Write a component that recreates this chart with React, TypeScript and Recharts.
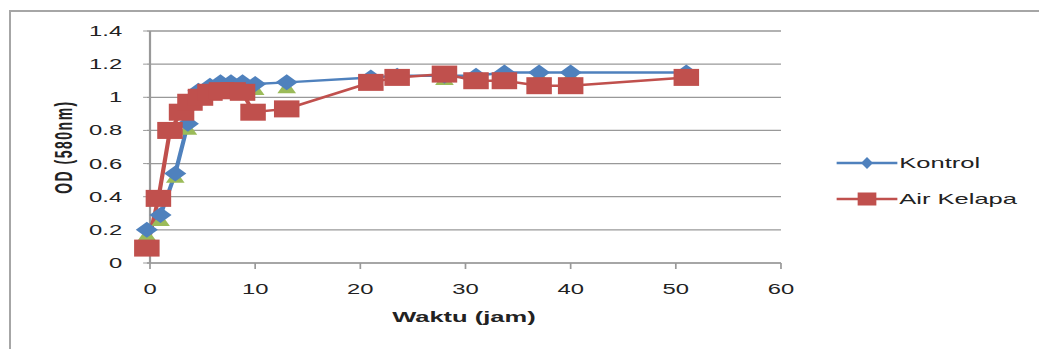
import { LineChart, Line, XAxis, YAxis, CartesianGrid, ReferenceLine, Legend } from "recharts"

// waktu (jam) dan OD 580 nm
const waktuKontrol = [-0.3, 1.0, 2.4, 3.6, 4.6, 5.7, 6.7, 7.7, 8.8, 10, 13, 21, 23.5, 28, 31, 33.7, 37, 40, 51]
const odKontrol = [0.2, 0.29, 0.54, 0.84, 1.04, 1.07, 1.09, 1.09, 1.09, 1.08, 1.09, 1.12, 1.13, 1.13, 1.13, 1.15, 1.15, 1.15, 1.15]
const odKontrol2 = [0.17, 0.26, 0.52, 0.81, 1.01, 1.04, 1.06, 1.06, 1.06, 1.05, 1.06, 1.09, 1.11, 1.11, 1.11, 1.13, 1.13, 1.13, 1.13]

const waktuAirKelapa = [-0.3, 0.8, 1.9, 3.0, 3.8, 4.8, 5.7, 6.8, 7.9, 8.8, 9.8, 13, 21, 23.5, 28, 31, 33.7, 37, 40, 51]
const odAirKelapa = [0.09, 0.39, 0.8, 0.91, 0.97, 1.0, 1.03, 1.04, 1.04, 1.03, 0.91, 0.93, 1.09, 1.12, 1.14, 1.1, 1.1, 1.07, 1.07, 1.12]

const xTicks = [0, 10, 20, 30, 40, 50, 60]
const yTicks = [0, 0.2, 0.4, 0.6, 0.8, 1, 1.2, 1.4]
const legendOrder = ["Kontrol", "Air Kelapa"]

const kontrol = waktuKontrol.map((x, i) => ({ x, y: odKontrol[i] }))
const kontrol2 = waktuKontrol.map((x, i) => ({ x, y: odKontrol2[i] }))
const airKelapa = waktuAirKelapa.map((x, i) => ({ x, y: odAirKelapa[i] }))

const BLUE = "#4F81BD"
const RED = "#C0504D"
const GREEN = "#9BBB59"
const GRID = "#999999"
const FONT = "'Liberation Sans', Arial, sans-serif"
const SX = 1.7

const Diamond = (props: any) => {
  const { cx, cy } = props
  if (cx == null || cy == null) return null
  return <path d={`M${cx},${cy - 8}L${cx + 6.5},${cy}L${cx},${cy + 8}L${cx - 6.5},${cy}Z`} fill={BLUE} />
}

const Square = (props: any) => {
  const { cx, cy } = props
  if (cx == null || cy == null) return null
  return <rect x={cx - 7.5} y={cy - 8.5} width={15} height={17} fill={RED} />
}

const Triangle = (props: any) => {
  const { cx, cy } = props
  if (cx == null || cy == null) return null
  return <path d={`M${cx},${cy - 7}L${cx + 5.5},${cy + 6}L${cx - 5.5},${cy + 6}Z`} fill={GREEN} />
}

const YLabel = (props: any) => {
  const vb = props.viewBox || { y: 31, height: 232 }
  const cx = 37.6
  const cy = vb.y + vb.height / 2
  return (
    <text
      x={cx}
      y={cy}
      transform={`rotate(-90, ${cx}, ${cy})`}
      textAnchor="middle"
      dominantBaseline="central"
      fontSize={14}
      fontWeight="bold"
      fill="#222"
      letterSpacing={1.5}
      fontFamily={FONT}
    >
      OD (580nm)
    </text>
  )
}

const renderLegend = (props: any) => {
  const items = (props.payload || [])
    .filter((p: any) => legendOrder.includes(p.value))
    .sort((a: any, b: any) => legendOrder.indexOf(a.value) - legendOrder.indexOf(b.value))
  return (
    <div style={{ fontFamily: FONT, fontSize: 15, color: "#222" }}>
      {items.map((item: any) => (
        <div key={item.value} style={{ display: "flex", alignItems: "center", height: 20, marginBottom: 16 }}>
          <svg width={36} height={20}>
            <line x1={0} y1={10} x2={36} y2={10} stroke={item.color} strokeWidth={2.5} />
            {item.value === "Kontrol" ? (
              <path d="M18,4L21.5,10L18,16L14.5,10Z" fill={item.color} />
            ) : (
              <rect x={12.5} y={3.5} width={11} height={13} fill={item.color} />
            )}
          </svg>
          <span style={{ marginLeft: 1, lineHeight: "20px" }}>{item.value}</span>
        </div>
      ))}
    </div>
  )
}

export default function App() {
  return (
    <div style={{ position: "fixed", left: 0, top: 0, width: 1039, height: 349, overflow: "hidden", background: "#fff" }}>
      <div
        style={{
          position: "absolute",
          left: 9,
          top: 10,
          width: 1200,
          height: 500,
          borderLeft: "2px solid #a6a6a6",
          borderTop: "2px solid #a6a6a6",
        }}
      />
      <div style={{ position: "absolute", left: 0, top: 0, transform: `scaleX(${SX})`, transformOrigin: "0 0" }}>
        <LineChart width={611} height={349} margin={{ top: 31, right: 151.6, bottom: 27, left: 0 }} style={{ fontFamily: FONT }}>
          <CartesianGrid vertical={false} stroke={GRID} strokeWidth={1.3} />
          <XAxis
            type="number"
            dataKey="x"
            domain={[-0.3, 60]}
            ticks={xTicks}
            height={59}
            stroke={GRID}
            tickSize={6}
            tickMargin={15}
            tick={{ fill: "#222", fontSize: 14 }}
            label={{ value: "Waktu (jam)", position: "insideBottom", offset: 0, fontSize: 15, fontWeight: "bold", fill: "#222" }}
          />
          <YAxis
            type="number"
            dataKey="y"
            domain={[0, 1.4]}
            ticks={yTicks}
            width={86.38}
            axisLine={false}
            stroke={GRID}
            tickSize={2.2}
            tickMargin={12.3}
            tick={{ fill: "#222", fontSize: 14 }}
            label={{ content: YLabel }}
          />
          <ReferenceLine x={0} stroke={GRID} strokeWidth={1.3} />
          <Legend
            layout="horizontal"
            align="center"
            verticalAlign="middle"
            content={renderLegend}
            wrapperStyle={{ left: 492, top: 153, width: 130, height: 80 }}
          />
          <Line
            data={kontrol2}
            dataKey="y"
            name="Kontrol 2"
            legendType="none"
            stroke="none"
            dot={<Triangle />}
            activeDot={false}
            isAnimationActive={false}
          />
          <Line
            data={kontrol}
            dataKey="y"
            name="Kontrol"
            stroke={BLUE}
            strokeWidth={2.5}
            dot={<Diamond />}
            activeDot={false}
            isAnimationActive={false}
          />
          <Line
            data={airKelapa}
            dataKey="y"
            name="Air Kelapa"
            stroke={RED}
            strokeWidth={2.5}
            dot={<Square />}
            activeDot={false}
            isAnimationActive={false}
          />
        </LineChart>
      </div>
    </div>
  )
}
